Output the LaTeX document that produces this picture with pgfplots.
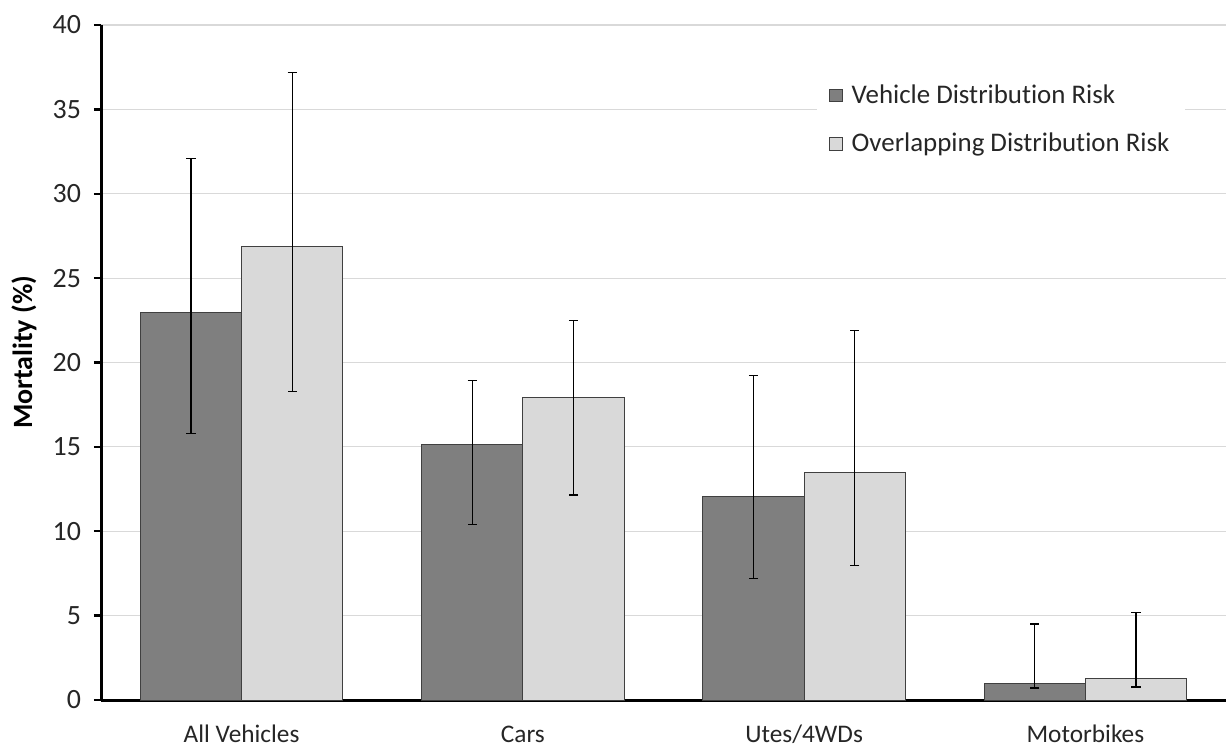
\documentclass[border=0pt]{standalone}
\usepackage{pgfplots}
\pgfplotsset{compat=1.18}
\usepackage{pgfplotstable}
\usetikzlibrary{calc}
\usepackage{fontspec}
\setmainfont{Carlito}[Ligatures={NoCommon}]
\definecolor{darkbar}{HTML}{7F7F7F}
\definecolor{lightbar}{HTML}{D9D9D9}
\definecolor{gridc}{HTML}{D9D9D9}
\definecolor{txt}{HTML}{262626}
\pgfplotstableread{
x y ep em
0 22.95 9.15 7.15
1 15.15 3.80 4.75
2 12.05 7.20 4.85
3 1.00 3.50 0.29
}\vdr
\pgfplotstableread{
x y ep em
0 26.85 10.35 8.55
1 17.90 4.60 5.75
2 13.50 8.40 5.55
3 1.25 3.95 0.48
}\odr
\begin{document}
\begin{tikzpicture}
\begin{axis}[
  scale only axis,
  width=562.5bp, height=337.5bp,
  xmin=-0.5, xmax=3.5, ymin=0, ymax=40,
  axis lines*=left,
  axis line style={line width=1.5bp, black},
  xtick={0,1,2,3},
  xticklabels={All Vehicles,Cars,Utes/4WDs,Motorbikes},
  major x tick style={draw=none},
  extra x ticks={-0.5,0.5,1.5,2.5,3.5},
  extra x tick labels={},
  extra x tick style={major tick length=4bp, tick style={line width=1.5bp, black}, tick align=outside, grid=none},
  ytick={0,5,...,40},
  ymajorgrids,
  grid style={line width=0.6bp, gridc},
  tick align=outside,
  major tick length=3.5bp,
  y tick style={line width=1.2bp, black},
  tick label style={text=txt},
  yticklabel style={font=\fontsize{14}{16}\selectfont, xshift=-3bp},
  xticklabel style={font=\fontsize{12.7}{15}\selectfont, anchor=base, yshift=-17.5bp},
  /pgf/number format/assume math mode=true,
  ylabel={\bfseries Mortality (\%)},
  every axis y label/.style={at={(rel axis cs:0,0.515)}, xshift=-38.5bp, rotate=90, anchor=center,
     font=\fontsize{14}{16}\selectfont, text=black},
  legend style={at={(0.636,0.933)}, anchor=north west, draw=none, fill=white,
    font=\fontsize{13.5}{15}\selectfont, text=txt, inner xsep=6bp, inner ysep=5bp,
    row sep=9.5bp, legend cell align=left,
    /tikz/every odd column/.append style={column sep=2.5bp}},
  legend image code/.code={\draw[#1, line width=0.5bp] (0bp,-3.2bp) rectangle (6.4bp,3.2bp);},
  error bars/error bar style={line width=0.6bp, black},
  error bars/error mark options={rotate=90, mark size=2.3bp, line width=0.6bp, black},
  clip=false,
]
\addplot[ybar, bar width=0.36, bar shift=0, fill=darkbar, draw=black!75, line width=0.5bp,
  error bars/.cd, y dir=both, y explicit]
  table[x expr=\thisrow{x}-0.18, y=y, y error plus=ep, y error minus=em] {\vdr};
\addlegendentry{Vehicle Distribution Risk}
\addplot[ybar, bar width=0.36, bar shift=0, fill=lightbar, draw=black!75, line width=0.5bp,
  error bars/.cd, y dir=both, y explicit]
  table[x expr=\thisrow{x}+0.18, y=y, y error plus=ep, y error minus=em] {\odr};
\addlegendentry{Overlapping Distribution Risk}
\coordinate (o) at (rel axis cs:0,0);
\end{axis}
\pgfresetboundingbox
\path[use as bounding box] ($(o)+(-50.5bp,-23.5bp)$) rectangle ($(o)+(563.5bp,350bp)$);
\end{tikzpicture}
\end{document}
